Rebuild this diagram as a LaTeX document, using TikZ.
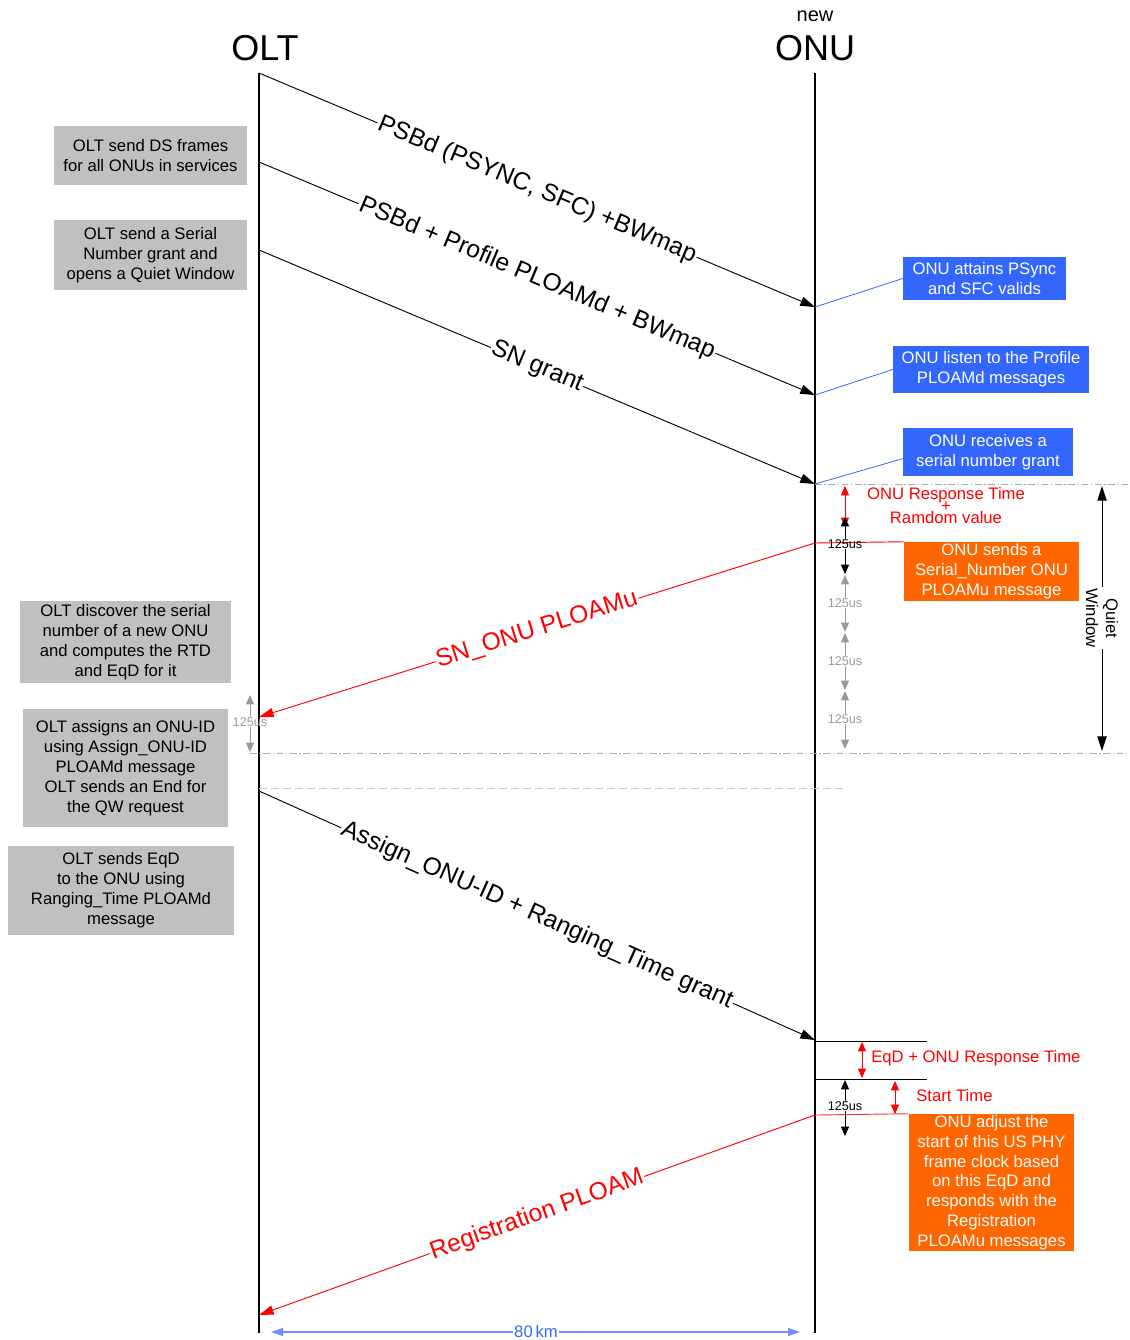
\documentclass[tikz,border=0pt]{standalone}
\usepackage{fontspec}
\setmainfont{Liberation Sans}
\usetikzlibrary{arrows.meta}
\definecolor{boxgray}{HTML}{C0C0C0}
\definecolor{noteblue}{HTML}{3366FF}
\definecolor{noteorange}{HTML}{FF6600}
\definecolor{msgred}{HTML}{FF0000}
\definecolor{tickgray}{HTML}{999999}
\definecolor{gridgray}{HTML}{AAAAAA}
\definecolor{kmblue}{HTML}{6F8FFF}

\begin{document}
\begin{tikzpicture}[x=0.75pt,y=-0.75pt,
  lifeline/.style={line width=2.2pt},
  msg/.style={line width=0.7pt,-{Triangle[length=11pt,width=7pt]}},
  msglabel/.style={sloped,fill=white,inner sep=1pt,pos=0.5,
    font=\fontsize{18.5}{20}\selectfont},
  boxsize/.style 2 args={minimum width=#1*0.75pt,minimum height=#2*0.75pt},
  notebox/.style={align=center,inner sep=0pt,font=\fontsize{12.5}{15}\selectfont},
  oltbox/.style={notebox,fill=boxgray,text=black},
  onubox/.style={notebox,fill=noteblue,text=white},
  actbox/.style={notebox,fill=noteorange,text=white},
  pointer/.style={noteblue,line width=0.6pt},
  tick/.style={line width=0.6pt,-{Triangle[length=7pt,width=6pt]}},
  ticklabel/.style={inner sep=0.5pt,font=\fontsize{9.5}{10}\selectfont},
  span/.style={line width=0.7pt,{Triangle[length=7pt,width=6pt]}-{Triangle[length=7pt,width=6pt]}},
  redlabel/.style={text=msgred,inner sep=0pt,font=\fontsize{12.5}{14}\selectfont},
  dashdotline/.style={gridgray,line width=0.6pt,dash pattern=on 5pt off 2pt on 1pt off 2pt},
]
\useasboundingbox (0,0) rectangle (1130,1340);

% --- titles -------------------------------------------------------------
\node (oltT) at (265,48) {\fontsize{27}{30}\selectfont OLT};
\node (newT) at (815,16) {\fontsize{15}{17}\selectfont new};
\node (onuT) at (815,48) {\fontsize{27}{30}\selectfont ONU};

% --- lifelines ----------------------------------------------------------
\coordinate (oltTop) at (259,73);
\coordinate (oltBot) at (259,1333);
\coordinate (onuTop) at (815,73);
\coordinate (onuBot) at (815,1333);
\draw[lifeline] (oltTop) -- (oltBot);
\draw[lifeline] (onuTop) -- (onuBot);

% --- end points of the messages ------------------------------------------
\coordinate (m1s) at (259,73);   \coordinate (m1e) at (815,307);
\coordinate (m2s) at (259,162);  \coordinate (m2e) at (815,395);
\coordinate (m3s) at (259,250);  \coordinate (m3e) at (815,484);
\coordinate (m4s) at (815,543);  \coordinate (m4e) at (259,717);
\coordinate (m5s) at (259,791);  \coordinate (m5e) at (815,1040);
\coordinate (m6s) at (815,1115); \coordinate (m6e) at (259,1315);

% --- grid / window lines --------------------------------------------------
\coordinate (qwTopL) at (815,484);  \coordinate (qwTopR) at (1130,484);
\coordinate (qwBotL) at (250,753);  \coordinate (qwBotR) at (1130,753);
\draw[dashdotline] (qwTopL) -- (qwTopR);
\draw[dashdotline] (qwBotL) -- (qwBotR);
\coordinate (sepL) at (259,788); \coordinate (sepR) at (845,788);
\draw[black!22,line width=0.7pt,dash pattern=on 6pt off 3pt] (sepL) -- (sepR);

% --- messages -----------------------------------------------------------
\draw[msg] (m1s) -- node[msglabel] (l1) {PSBd (PSYNC, SFC) +BWmap} (m1e);
\draw[msg] (m2s) -- node[msglabel] (l2) {PSBd + Profile PLOAMd + BWmap} (m2e);
\draw[msg] (m3s) -- node[msglabel] (l3) {SN grant} (m3e);
\draw[msg,msgred] (m4s) -- node[msglabel,text=msgred] (l4) {SN\_ONU PLOAMu} (m4e);
\draw[msg] (m5s) -- node[msglabel] (l5) {Assign\_ONU-ID + Ranging\_Time grant} (m5e);
\draw[msg,msgred] (m6s) -- node[msglabel,text=msgred] (l6) {Registration PLOAM} (m6e);

% --- OLT side notes -----------------------------------------------------
\node[oltbox,boxsize={193}{59}] (g1) at (150.5,155.5)
  {OLT send DS frames\\for all ONUs in services};
\node[oltbox,boxsize={193}{70}] (g2) at (150.5,255)
  {OLT send a Serial\\Number grant and\\opens a Quiet Window};
\node[oltbox,boxsize={211}{82}] (g3) at (125.5,642)
  {OLT discover the serial\\number of a new ONU\\and computes the RTD\\and EqD for it};
\node[oltbox,boxsize={205}{118}] (g4) at (125.5,768)
  {OLT assigns an ONU-ID\\using Assign\_ONU-ID\\PLOAMd message\\OLT sends an End for\\the QW request};
\node[oltbox,boxsize={226}{89}] (g5) at (121,890.5)
  {OLT sends EqD\\to the ONU using\\Ranging\_Time PLOAMd\\message};

% --- ONU side notes -----------------------------------------------------
\node[onubox,boxsize={163}{43}] (b1) at (984.5,278.5)
  {ONU attains PSync\\and SFC valids};
\node[onubox,boxsize={196}{47}] (b2) at (991,369.5)
  {ONU listen to the Profile\\PLOAMd messages};
\node[onubox,boxsize={170}{48}] (b3) at (988,452)
  {ONU receives a\\serial number grant};
\draw[pointer] (m1e) -- (b1.west);
\draw[pointer] (m2e) -- (b2.west);
\draw[pointer] (m3e) -- ([yshift=-5pt]b3.west);

\node[actbox,boxsize={175}{59}] (o1) at (991.5,571.5)
  {ONU sends a\\Serial\_Number ONU\\PLOAMu message};
\node[actbox,boxsize={165}{137},font=\fontsize{12.5}{14.8}\selectfont] (o2) at (991.5,1182.5)
  {ONU adjust the\\start of this US PHY\\frame clock based\\on this EqD and\\responds with the\\Registration\\PLOAMu messages};
\draw[msgred,line width=0.7pt] (m4s) -- (o1.north west);
\draw[msgred!80,line width=0.7pt] (m6s) -- (o2.north west);

% --- response time and frame ticks ----------------------------------------
\coordinate (rtA) at (845,486); \coordinate (rtB) at (845,527);
\draw[span,msgred] (rtA) -- (rtB);
\node[redlabel] (rt1) at (946,495) {ONU Response Time};
\node[redlabel] (rt2) at (946,507) {+};
\node[redlabel] (rt3) at (946,518) {Ramdom value};

\node[ticklabel] (t1) at (845,544) {125us};
\coordinate (t1a) at (845,517); \coordinate (t1b) at (845,574);
\draw[tick] (t1.north) -- (t1a);
\draw[tick] (t1.south) -- (t1b);

\node[ticklabel,text=tickgray] (t2) at (845,603) {125us};
\coordinate (t2a) at (845,575); \coordinate (t2b) at (845,632);
\draw[tick,tickgray] (t2.north) -- (t2a);
\draw[tick,tickgray] (t2.south) -- (t2b);

\node[ticklabel,text=tickgray] (t3) at (845,661) {125us};
\coordinate (t3a) at (845,633); \coordinate (t3b) at (845,690);
\draw[tick,tickgray] (t3.north) -- (t3a);
\draw[tick,tickgray] (t3.south) -- (t3b);

\node[ticklabel,text=tickgray] (t4) at (845,719) {125us};
\coordinate (t4a) at (845,691); \coordinate (t4b) at (845,749);
\draw[tick,tickgray] (t4.north) -- (t4a);
\draw[tick,tickgray] (t4.south) -- (t4b);

\node[ticklabel,text=tickgray] (t5) at (250,722) {125us};
\coordinate (t5a) at (250,695); \coordinate (t5b) at (250,752);
\draw[tick,tickgray] (t5.north) -- (t5a);
\draw[tick,tickgray] (t5.south) -- (t5b);

% --- quiet window -------------------------------------------------------
\coordinate (qwA) at (1102,486); \coordinate (qwB) at (1102,751);
\node[fill=white,inner sep=1pt,rotate=-90,align=center,
  font=\fontsize{12.5}{15}\selectfont] (qw) at (1102,618) {Quiet\\Window};
\draw[line width=0.7pt,-{Triangle[length=11pt,width=7pt]}] (qw.west) -- (qwA);
\draw[line width=0.7pt,-{Triangle[length=11pt,width=7pt]}] (qw.east) -- (qwB);

% --- ranging: EqD and start time ----------------------------------------
\coordinate (eqL) at (815,1041); \coordinate (eqR) at (927,1041);
\coordinate (stL) at (815,1079); \coordinate (stR) at (927,1079);
\draw[line width=0.6pt] (eqL) -- (eqR);
\draw[line width=0.6pt] (stL) -- (stR);
\coordinate (eqA) at (862,1042); \coordinate (eqB) at (862,1078);
\draw[span,msgred] (eqA) -- (eqB);
\node[redlabel,anchor=west] (eqT) at (871,1058) {EqD + ONU Response Time};
\coordinate (sA) at (895,1081); \coordinate (sB) at (895,1114);
\draw[span,msgred] (sA) -- (sB);
\node[redlabel,anchor=west] (sT) at (916,1096) {Start Time};

\node[ticklabel] (t6) at (845,1106) {125us};
\coordinate (t6a) at (845,1080); \coordinate (t6b) at (845,1136);
\draw[tick] (t6.north) -- (t6a);
\draw[tick] (t6.south) -- (t6b);

% --- distance -----------------------------------------------------------
\node[text=noteblue,inner sep=1pt,font=\fontsize{12.5}{14}\selectfont] (km) at (536,1332) {80\,km};
\coordinate (kmL) at (271,1332); \coordinate (kmR) at (800,1332);
\draw[kmblue,line width=0.8pt,-{Triangle[length=9pt,width=6pt]}] (km.west) -- (kmL);
\draw[kmblue,line width=0.8pt,-{Triangle[length=9pt,width=6pt]}] (km.east) -- (kmR);
\end{tikzpicture}
\end{document}
